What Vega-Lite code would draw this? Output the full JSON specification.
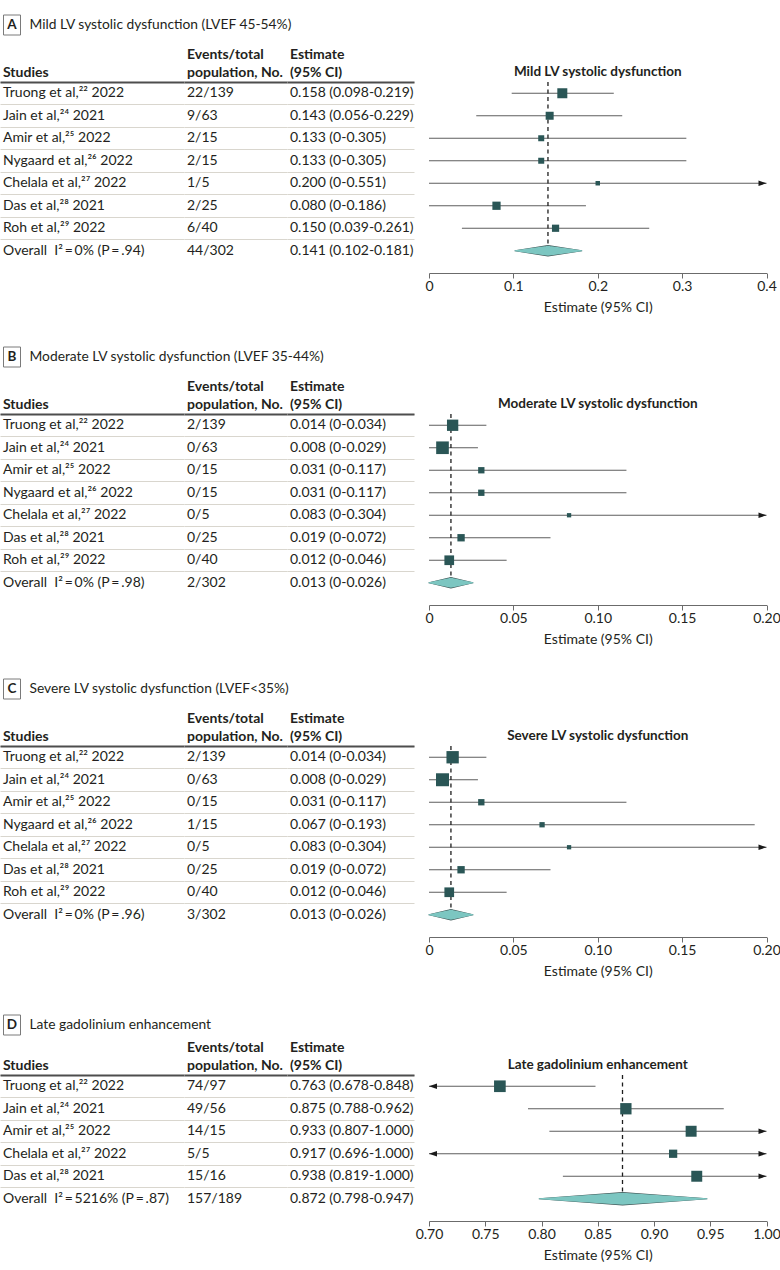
{
  "$schema": "https://vega.github.io/schema/vega-lite/v6.json",
  "padding": {"left": 0, "top": 13, "right": 0, "bottom": 0},
  "spacing": 31,
  "config": {
    "font": "Lato",
    "view": {"stroke": null},
    "text": {"font": "Lato", "fontSize": 14, "color": "#231f20"},
    "title": {"font": "Lato", "fontSize": 14, "fontWeight": "bold", "color": "#231f20", "anchor": "start", "dx": 3, "offset": 2, "lineHeight": 18},
    "axis": {"labelFont": "Lato", "titleFont": "Lato", "labelFontSize": 14, "titleFontSize": 14, "titleFontWeight": "normal", "labelColor": "#231f20", "titleColor": "#231f20", "tickSize": 5, "tickColor": "#6b6b6b", "domainColor": "#6b6b6b", "labelPadding": 1, "titlePadding": 7, "grid": false, "labelFlush": false}
  },
  "datasets": {
    "rows": [
      {"panel": "A", "study": "Truong et al,²² 2022", "events": "22/139", "ci": "0.158 (0.098-0.219)", "est": 0.158, "lo": 0.098, "hi": 0.219, "weight": 25},
      {"panel": "A", "study": "Jain et al,²⁴ 2021", "events": "9/63", "ci": "0.143 (0.056-0.229)", "est": 0.143, "lo": 0.056, "hi": 0.229, "weight": 16},
      {"panel": "A", "study": "Amir et al,²⁵ 2022", "events": "2/15", "ci": "0.133 (0-0.305)", "est": 0.133, "lo": 0, "hi": 0.305, "weight": 9},
      {"panel": "A", "study": "Nygaard et al,²⁶ 2022", "events": "2/15", "ci": "0.133 (0-0.305)", "est": 0.133, "lo": 0, "hi": 0.305, "weight": 9},
      {"panel": "A", "study": "Chelala et al,²⁷ 2022", "events": "1/5", "ci": "0.200 (0-0.551)", "est": 0.2, "lo": 0, "hi": 0.551, "weight": 5},
      {"panel": "A", "study": "Das et al,²⁸ 2021", "events": "2/25", "ci": "0.080 (0-0.186)", "est": 0.08, "lo": 0, "hi": 0.186, "weight": 17},
      {"panel": "A", "study": "Roh et al,²⁹ 2022", "events": "6/40", "ci": "0.150 (0.039-0.261)", "est": 0.15, "lo": 0.039, "hi": 0.261, "weight": 13},
      {"panel": "A", "study": "Overall\u00a0 I²\u2009=\u20090% (P\u2009=\u2009.94)", "events": "44/302", "ci": "0.141 (0.102-0.181)", "est": 0.141, "lo": 0.102, "hi": 0.181, "weight": null},
      {"panel": "B", "study": "Truong et al,²² 2022", "events": "2/139", "ci": "0.014 (0-0.034)", "est": 0.014, "lo": 0, "hi": 0.034, "weight": 32},
      {"panel": "B", "study": "Jain et al,²⁴ 2021", "events": "0/63", "ci": "0.008 (0-0.029)", "est": 0.008, "lo": 0, "hi": 0.029, "weight": 40},
      {"panel": "B", "study": "Amir et al,²⁵ 2022", "events": "0/15", "ci": "0.031 (0-0.117)", "est": 0.031, "lo": 0, "hi": 0.117, "weight": 10},
      {"panel": "B", "study": "Nygaard et al,²⁶ 2022", "events": "0/15", "ci": "0.031 (0-0.117)", "est": 0.031, "lo": 0, "hi": 0.117, "weight": 10},
      {"panel": "B", "study": "Chelala et al,²⁷ 2022", "events": "0/5", "ci": "0.083 (0-0.304)", "est": 0.083, "lo": 0, "hi": 0.304, "weight": 4.6},
      {"panel": "B", "study": "Das et al,²⁸ 2021", "events": "0/25", "ci": "0.019 (0-0.072)", "est": 0.019, "lo": 0, "hi": 0.072, "weight": 13.5},
      {"panel": "B", "study": "Roh et al,²⁹ 2022", "events": "0/40", "ci": "0.012 (0-0.046)", "est": 0.012, "lo": 0, "hi": 0.046, "weight": 23.5},
      {"panel": "B", "study": "Overall\u00a0 I²\u2009=\u20090% (P\u2009=\u2009.98)", "events": "2/302", "ci": "0.013 (0-0.026)", "est": 0.013, "lo": 0, "hi": 0.026, "weight": null},
      {"panel": "C", "study": "Truong et al,²² 2022", "events": "2/139", "ci": "0.014 (0-0.034)", "est": 0.014, "lo": 0, "hi": 0.034, "weight": 38},
      {"panel": "C", "study": "Jain et al,²⁴ 2021", "events": "0/63", "ci": "0.008 (0-0.029)", "est": 0.008, "lo": 0, "hi": 0.029, "weight": 42},
      {"panel": "C", "study": "Amir et al,²⁵ 2022", "events": "0/15", "ci": "0.031 (0-0.117)", "est": 0.031, "lo": 0, "hi": 0.117, "weight": 10},
      {"panel": "C", "study": "Nygaard et al,²⁶ 2022", "events": "1/15", "ci": "0.067 (0-0.193)", "est": 0.067, "lo": 0, "hi": 0.193, "weight": 7},
      {"panel": "C", "study": "Chelala et al,²⁷ 2022", "events": "0/5", "ci": "0.083 (0-0.304)", "est": 0.083, "lo": 0, "hi": 0.304, "weight": 4.6},
      {"panel": "C", "study": "Das et al,²⁸ 2021", "events": "0/25", "ci": "0.019 (0-0.072)", "est": 0.019, "lo": 0, "hi": 0.072, "weight": 13.5},
      {"panel": "C", "study": "Roh et al,²⁹ 2022", "events": "0/40", "ci": "0.012 (0-0.046)", "est": 0.012, "lo": 0, "hi": 0.046, "weight": 23.5},
      {"panel": "C", "study": "Overall\u00a0 I²\u2009=\u20090% (P\u2009=\u2009.96)", "events": "3/302", "ci": "0.013 (0-0.026)", "est": 0.013, "lo": 0, "hi": 0.026, "weight": null},
      {"panel": "D", "study": "Truong et al,²² 2022", "events": "74/97", "ci": "0.763 (0.678-0.848)", "est": 0.763, "lo": 0.678, "hi": 0.848, "weight": 34},
      {"panel": "D", "study": "Jain et al,²⁴ 2021", "events": "49/56", "ci": "0.875 (0.788-0.962)", "est": 0.875, "lo": 0.788, "hi": 0.962, "weight": 32},
      {"panel": "D", "study": "Amir et al,²⁵ 2022", "events": "14/15", "ci": "0.933 (0.807-1.000)", "est": 0.933, "lo": 0.807, "hi": 1.0, "weight": 30},
      {"panel": "D", "study": "Chelala et al,²⁷ 2022", "events": "5/5", "ci": "0.917 (0.696-1.000)", "est": 0.917, "lo": 0.696, "hi": 1.0, "weight": 17},
      {"panel": "D", "study": "Das et al,²⁸ 2021", "events": "15/16", "ci": "0.938 (0.819-1.000)", "est": 0.938, "lo": 0.819, "hi": 1.0, "weight": 30},
      {"panel": "D", "study": "Overall\u00a0 I²\u2009=\u20095216% (P\u2009=\u2009.87)", "events": "157/189", "ci": "0.872 (0.798-0.947)", "est": 0.872, "lo": 0.798, "hi": 0.947, "weight": null}
    ],
    "diamond": [
      {"panel": "A", "study": "Overall\u00a0 I²\u2009=\u20090% (P\u2009=\u2009.94)", "x": 0.102, "part": "edge"},
      {"panel": "A", "study": "Overall\u00a0 I²\u2009=\u20090% (P\u2009=\u2009.94)", "x": 0.141, "part": "center"},
      {"panel": "A", "study": "Overall\u00a0 I²\u2009=\u20090% (P\u2009=\u2009.94)", "x": 0.181, "part": "edge"},
      {"panel": "B", "study": "Overall\u00a0 I²\u2009=\u20090% (P\u2009=\u2009.98)", "x": 0, "part": "edge"},
      {"panel": "B", "study": "Overall\u00a0 I²\u2009=\u20090% (P\u2009=\u2009.98)", "x": 0.013, "part": "center"},
      {"panel": "B", "study": "Overall\u00a0 I²\u2009=\u20090% (P\u2009=\u2009.98)", "x": 0.026, "part": "edge"},
      {"panel": "C", "study": "Overall\u00a0 I²\u2009=\u20090% (P\u2009=\u2009.96)", "x": 0, "part": "edge"},
      {"panel": "C", "study": "Overall\u00a0 I²\u2009=\u20090% (P\u2009=\u2009.96)", "x": 0.013, "part": "center"},
      {"panel": "C", "study": "Overall\u00a0 I²\u2009=\u20090% (P\u2009=\u2009.96)", "x": 0.026, "part": "edge"},
      {"panel": "D", "study": "Overall\u00a0 I²\u2009=\u20095216% (P\u2009=\u2009.87)", "x": 0.798, "part": "edge"},
      {"panel": "D", "study": "Overall\u00a0 I²\u2009=\u20095216% (P\u2009=\u2009.87)", "x": 0.872, "part": "center"},
      {"panel": "D", "study": "Overall\u00a0 I²\u2009=\u20095216% (P\u2009=\u2009.87)", "x": 0.947, "part": "edge"}
    ]
  },
  "vconcat": [
    {
      "spacing": 11,
      "vconcat": [
        {
          "width": 24, "height": 20,
          "data": {"values": [{"letter": "A", "title": "Mild LV systolic dysfunction (LVEF 45-54%)"}]},
          "layer": [
            {"mark": {"type": "point", "shape": "M-0.85,-1H0.85V1H-0.85Z", "size": 400, "filled": false, "stroke": "#7a7a7a", "strokeWidth": 1, "opacity": 1}, "encoding": {}},
            {"mark": {"type": "text", "fontWeight": "bold", "fontSize": 13.5}, "encoding": {"text": {"field": "letter"}}},
            {"mark": {"type": "text", "align": "left", "dx": 17.5, "fontSize": 13.8}, "encoding": {"text": {"field": "title"}}}
          ]
        },
        {
          "spacing": 10,
          "hconcat": [
            {
              "spacing": 0, "bounds": "flush",
              "hconcat": [
                {"width": 184, "height": 180, "data": {"name": "rows"}, "transform": [{"filter": "datum.panel == 'A'"}], "title": {"text": "Studies"},
                 "mark": {"type": "text", "align": "left", "baseline": "middle", "dx": 3},
                 "encoding": {
                   "y": {"field": "study", "type": "nominal", "sort": null, "scale": {"type": "band", "paddingInner": 0, "paddingOuter": 0}, "axis": {"grid": true, "gridColor": "#d9d6ce", "bandPosition": 0, "ticks": false, "labels": false, "domain": false, "title": null}},
                   "x": {"datum": 0, "type": "quantitative", "scale": {"domain": [0, 1]}, "axis": {"orient": "top", "domainWidth": 2, "domainColor": "#4d4d4d", "ticks": false, "labels": false, "title": null, "zindex": 1}},
                   "text": {"field": "study"}}},
                {"width": 103, "height": 180, "data": {"name": "rows"}, "transform": [{"filter": "datum.panel == 'A'"}], "title": {"text": ["Events/total", "population, No."]},
                 "mark": {"type": "text", "align": "left", "baseline": "middle", "dx": 3},
                 "encoding": {
                   "y": {"field": "study", "type": "nominal", "sort": null, "scale": {"type": "band", "paddingInner": 0, "paddingOuter": 0}, "axis": {"grid": true, "gridColor": "#d9d6ce", "bandPosition": 0, "ticks": false, "labels": false, "domain": false, "title": null}},
                   "x": {"datum": 0, "type": "quantitative", "scale": {"domain": [0, 1]}, "axis": {"orient": "top", "domainWidth": 2, "domainColor": "#4d4d4d", "ticks": false, "labels": false, "title": null, "zindex": 1}},
                   "text": {"field": "events"}}},
                {"width": 127, "height": 180, "data": {"name": "rows"}, "transform": [{"filter": "datum.panel == 'A'"}], "title": {"text": ["Estimate", "(95% CI)"]},
                 "mark": {"type": "text", "align": "left", "baseline": "middle", "dx": 3},
                 "encoding": {
                   "y": {"field": "study", "type": "nominal", "sort": null, "scale": {"type": "band", "paddingInner": 0, "paddingOuter": 0}, "axis": {"grid": true, "gridColor": "#d9d6ce", "bandPosition": 0, "ticks": false, "labels": false, "domain": false, "title": null}},
                   "x": {"datum": 0, "type": "quantitative", "scale": {"domain": [0, 1]}, "axis": {"orient": "top", "domainWidth": 2, "domainColor": "#4d4d4d", "ticks": false, "labels": false, "title": null, "zindex": 1}},
                   "text": {"field": "ci"}}}
              ]
            },
            {
              "width": 337.5, "height": 180,
              "title": {"text": "Mild LV systolic dysfunction", "anchor": "middle", "dx": 0, "offset": 3, "fontSize": 13.5},
              "resolve": {"scale": {"size": "independent"}},
              "layer": [
                {"data": {"name": "rows"}, "transform": [{"filter": "datum.panel == 'A' && isValid(datum.weight)"}],
                 "mark": {"type": "rule", "color": "#5e5e5e", "strokeWidth": 1.2},
                 "encoding": {
                   "y": {"field": "study", "type": "nominal", "sort": null, "scale": {"type": "band", "paddingInner": 0, "paddingOuter": 0}, "axis": null},
                   "x": {"field": "lo", "type": "quantitative", "scale": {"domain": [0, 0.4], "clamp": true, "nice": false, "zero": false}, "axis": {"values": [0, 0.1, 0.2, 0.3, 0.4], "labelExpr": "datum.value == 0 ? '0' : format(datum.value, '.1f')", "title": "Estimate (95% CI)", "offset": 11}},
                   "x2": {"field": "hi"}}},
                {"data": {"name": "rows"}, "transform": [{"filter": "datum.panel == 'A' && isValid(datum.weight)"}],
                 "mark": {"type": "rule", "color": "#1e1e1e", "strokeWidth": 1.3, "strokeDash": [4, 3.5], "yOffset": -11.25, "y2Offset": 11.25},
                 "encoding": {
                   "y": {"field": "study", "type": "nominal", "sort": null, "scale": {"type": "band", "paddingInner": 0, "paddingOuter": 0}, "axis": null},
                   "y2": {"field": "study"},
                   "x": {"datum": 0.141, "type": "quantitative", "scale": {"domain": [0, 0.4], "clamp": true, "nice": false, "zero": false}, "title": "Estimate (95% CI)"}}},
                {"data": {"name": "rows"}, "transform": [{"filter": "datum.panel == 'A' && !isValid(datum.weight)"}],
                 "mark": {"type": "rule", "color": "#1e1e1e", "strokeWidth": 1.3, "strokeDash": [4, 3.5], "yOffset": -11.25},
                 "encoding": {
                   "y": {"field": "study", "type": "nominal", "sort": null, "scale": {"type": "band", "paddingInner": 0, "paddingOuter": 0}, "axis": null},
                   "y2": {"field": "study"},
                   "x": {"field": "est", "type": "quantitative", "scale": {"domain": [0, 0.4], "clamp": true, "nice": false, "zero": false}, "title": "Estimate (95% CI)"}}},
                {"data": {"name": "rows"}, "transform": [{"filter": "datum.panel == 'A' && isValid(datum.weight)"}],
                 "mark": {"type": "point", "shape": "square", "filled": true, "color": "#2a5656", "opacity": 1},
                 "encoding": {
                   "y": {"field": "study", "type": "nominal", "sort": null, "scale": {"type": "band", "paddingInner": 0, "paddingOuter": 0}, "axis": null},
                   "x": {"field": "est", "type": "quantitative", "scale": {"domain": [0, 0.4], "clamp": true, "nice": false, "zero": false}, "title": "Estimate (95% CI)"},
                   "size": {"field": "weight", "type": "quantitative", "scale": {"domain": [0, 100], "range": [0, 400]}, "legend": null}}},
                {"data": {"name": "diamond"}, "transform": [{"filter": "datum.panel == 'A'"}],
                 "mark": {"type": "trail", "color": "#3d5252"},
                 "encoding": {
                   "y": {"field": "study", "type": "nominal", "sort": null, "scale": {"type": "band", "paddingInner": 0, "paddingOuter": 0}, "axis": null},
                   "x": {"field": "x", "type": "quantitative", "scale": {"domain": [0, 0.4], "clamp": true, "nice": false, "zero": false}, "title": "Estimate (95% CI)"},
                   "size": {"field": "part", "type": "ordinal", "scale": {"domain": ["edge", "center"], "range": [1, 11.6]}, "legend": null}}},
                {"data": {"name": "diamond"}, "transform": [{"filter": "datum.panel == 'A'"}],
                 "mark": {"type": "trail", "color": "#7cc6c1"},
                 "encoding": {
                   "y": {"field": "study", "type": "nominal", "sort": null, "scale": {"type": "band", "paddingInner": 0, "paddingOuter": 0}, "axis": null},
                   "x": {"field": "x", "type": "quantitative", "scale": {"domain": [0, 0.4], "clamp": true, "nice": false, "zero": false}, "title": "Estimate (95% CI)"},
                   "size": {"field": "part", "type": "ordinal", "scale": {"domain": ["edge", "center"], "range": [0, 10]}, "legend": null}}},
                {"data": {"name": "rows"}, "transform": [{"filter": "datum.panel == 'A' && isValid(datum.weight) && datum.hi >= 0.4"}],
                 "mark": {"type": "point", "shape": "M-2,-0.7L0,0L-2,0.7Z", "size": 64, "filled": true, "color": "#1a1a1a", "opacity": 1},
                 "encoding": {
                   "y": {"field": "study", "type": "nominal", "sort": null, "scale": {"type": "band", "paddingInner": 0, "paddingOuter": 0}, "axis": null},
                   "x": {"field": "hi", "type": "quantitative", "scale": {"domain": [0, 0.4], "clamp": true, "nice": false, "zero": false}, "title": "Estimate (95% CI)"}}}
              ]
            }
          ]
        }
      ]
    },
    {
      "spacing": 11,
      "vconcat": [
        {
          "width": 24, "height": 20,
          "data": {"values": [{"letter": "B", "title": "Moderate LV systolic dysfunction (LVEF 35-44%)"}]},
          "layer": [
            {"mark": {"type": "point", "shape": "M-0.85,-1H0.85V1H-0.85Z", "size": 400, "filled": false, "stroke": "#7a7a7a", "strokeWidth": 1, "opacity": 1}, "encoding": {}},
            {"mark": {"type": "text", "fontWeight": "bold", "fontSize": 13.5}, "encoding": {"text": {"field": "letter"}}},
            {"mark": {"type": "text", "align": "left", "dx": 17.5, "fontSize": 13.8}, "encoding": {"text": {"field": "title"}}}
          ]
        },
        {
          "spacing": 10,
          "hconcat": [
            {
              "spacing": 0, "bounds": "flush",
              "hconcat": [
                {"width": 184, "height": 180, "data": {"name": "rows"}, "transform": [{"filter": "datum.panel == 'B'"}], "title": {"text": "Studies"},
                 "mark": {"type": "text", "align": "left", "baseline": "middle", "dx": 3},
                 "encoding": {
                   "y": {"field": "study", "type": "nominal", "sort": null, "scale": {"type": "band", "paddingInner": 0, "paddingOuter": 0}, "axis": {"grid": true, "gridColor": "#d9d6ce", "bandPosition": 0, "ticks": false, "labels": false, "domain": false, "title": null}},
                   "x": {"datum": 0, "type": "quantitative", "scale": {"domain": [0, 1]}, "axis": {"orient": "top", "domainWidth": 2, "domainColor": "#4d4d4d", "ticks": false, "labels": false, "title": null, "zindex": 1}},
                   "text": {"field": "study"}}},
                {"width": 103, "height": 180, "data": {"name": "rows"}, "transform": [{"filter": "datum.panel == 'B'"}], "title": {"text": ["Events/total", "population, No."]},
                 "mark": {"type": "text", "align": "left", "baseline": "middle", "dx": 3},
                 "encoding": {
                   "y": {"field": "study", "type": "nominal", "sort": null, "scale": {"type": "band", "paddingInner": 0, "paddingOuter": 0}, "axis": {"grid": true, "gridColor": "#d9d6ce", "bandPosition": 0, "ticks": false, "labels": false, "domain": false, "title": null}},
                   "x": {"datum": 0, "type": "quantitative", "scale": {"domain": [0, 1]}, "axis": {"orient": "top", "domainWidth": 2, "domainColor": "#4d4d4d", "ticks": false, "labels": false, "title": null, "zindex": 1}},
                   "text": {"field": "events"}}},
                {"width": 127, "height": 180, "data": {"name": "rows"}, "transform": [{"filter": "datum.panel == 'B'"}], "title": {"text": ["Estimate", "(95% CI)"]},
                 "mark": {"type": "text", "align": "left", "baseline": "middle", "dx": 3},
                 "encoding": {
                   "y": {"field": "study", "type": "nominal", "sort": null, "scale": {"type": "band", "paddingInner": 0, "paddingOuter": 0}, "axis": {"grid": true, "gridColor": "#d9d6ce", "bandPosition": 0, "ticks": false, "labels": false, "domain": false, "title": null}},
                   "x": {"datum": 0, "type": "quantitative", "scale": {"domain": [0, 1]}, "axis": {"orient": "top", "domainWidth": 2, "domainColor": "#4d4d4d", "ticks": false, "labels": false, "title": null, "zindex": 1}},
                   "text": {"field": "ci"}}}
              ]
            },
            {
              "width": 337.5, "height": 180,
              "title": {"text": "Moderate LV systolic dysfunction", "anchor": "middle", "dx": 0, "offset": 3, "fontSize": 13.5},
              "resolve": {"scale": {"size": "independent"}},
              "layer": [
                {"data": {"name": "rows"}, "transform": [{"filter": "datum.panel == 'B' && isValid(datum.weight)"}],
                 "mark": {"type": "rule", "color": "#5e5e5e", "strokeWidth": 1.2},
                 "encoding": {
                   "y": {"field": "study", "type": "nominal", "sort": null, "scale": {"type": "band", "paddingInner": 0, "paddingOuter": 0}, "axis": null},
                   "x": {"field": "lo", "type": "quantitative", "scale": {"domain": [0, 0.2], "clamp": true, "nice": false, "zero": false}, "axis": {"values": [0, 0.05, 0.1, 0.15, 0.2], "labelExpr": "datum.value == 0 ? '0' : format(datum.value, '.2f')", "title": "Estimate (95% CI)", "offset": 11}},
                   "x2": {"field": "hi"}}},
                {"data": {"name": "rows"}, "transform": [{"filter": "datum.panel == 'B' && isValid(datum.weight)"}],
                 "mark": {"type": "rule", "color": "#1e1e1e", "strokeWidth": 1.3, "strokeDash": [4, 3.5], "yOffset": -11.25, "y2Offset": 11.25},
                 "encoding": {
                   "y": {"field": "study", "type": "nominal", "sort": null, "scale": {"type": "band", "paddingInner": 0, "paddingOuter": 0}, "axis": null},
                   "y2": {"field": "study"},
                   "x": {"datum": 0.013, "type": "quantitative", "scale": {"domain": [0, 0.2], "clamp": true, "nice": false, "zero": false}, "title": "Estimate (95% CI)"}}},
                {"data": {"name": "rows"}, "transform": [{"filter": "datum.panel == 'B' && !isValid(datum.weight)"}],
                 "mark": {"type": "rule", "color": "#1e1e1e", "strokeWidth": 1.3, "strokeDash": [4, 3.5], "yOffset": -11.25},
                 "encoding": {
                   "y": {"field": "study", "type": "nominal", "sort": null, "scale": {"type": "band", "paddingInner": 0, "paddingOuter": 0}, "axis": null},
                   "y2": {"field": "study"},
                   "x": {"field": "est", "type": "quantitative", "scale": {"domain": [0, 0.2], "clamp": true, "nice": false, "zero": false}, "title": "Estimate (95% CI)"}}},
                {"data": {"name": "rows"}, "transform": [{"filter": "datum.panel == 'B' && isValid(datum.weight)"}],
                 "mark": {"type": "point", "shape": "square", "filled": true, "color": "#2a5656", "opacity": 1},
                 "encoding": {
                   "y": {"field": "study", "type": "nominal", "sort": null, "scale": {"type": "band", "paddingInner": 0, "paddingOuter": 0}, "axis": null},
                   "x": {"field": "est", "type": "quantitative", "scale": {"domain": [0, 0.2], "clamp": true, "nice": false, "zero": false}, "title": "Estimate (95% CI)"},
                   "size": {"field": "weight", "type": "quantitative", "scale": {"domain": [0, 100], "range": [0, 400]}, "legend": null}}},
                {"data": {"name": "diamond"}, "transform": [{"filter": "datum.panel == 'B'"}],
                 "mark": {"type": "trail", "color": "#3d5252"},
                 "encoding": {
                   "y": {"field": "study", "type": "nominal", "sort": null, "scale": {"type": "band", "paddingInner": 0, "paddingOuter": 0}, "axis": null},
                   "x": {"field": "x", "type": "quantitative", "scale": {"domain": [0, 0.2], "clamp": true, "nice": false, "zero": false}, "title": "Estimate (95% CI)"},
                   "size": {"field": "part", "type": "ordinal", "scale": {"domain": ["edge", "center"], "range": [1, 11.6]}, "legend": null}}},
                {"data": {"name": "diamond"}, "transform": [{"filter": "datum.panel == 'B'"}],
                 "mark": {"type": "trail", "color": "#7cc6c1"},
                 "encoding": {
                   "y": {"field": "study", "type": "nominal", "sort": null, "scale": {"type": "band", "paddingInner": 0, "paddingOuter": 0}, "axis": null},
                   "x": {"field": "x", "type": "quantitative", "scale": {"domain": [0, 0.2], "clamp": true, "nice": false, "zero": false}, "title": "Estimate (95% CI)"},
                   "size": {"field": "part", "type": "ordinal", "scale": {"domain": ["edge", "center"], "range": [0, 10]}, "legend": null}}},
                {"data": {"name": "rows"}, "transform": [{"filter": "datum.panel == 'B' && isValid(datum.weight) && datum.hi >= 0.2"}],
                 "mark": {"type": "point", "shape": "M-2,-0.7L0,0L-2,0.7Z", "size": 64, "filled": true, "color": "#1a1a1a", "opacity": 1},
                 "encoding": {
                   "y": {"field": "study", "type": "nominal", "sort": null, "scale": {"type": "band", "paddingInner": 0, "paddingOuter": 0}, "axis": null},
                   "x": {"field": "hi", "type": "quantitative", "scale": {"domain": [0, 0.2], "clamp": true, "nice": false, "zero": false}, "title": "Estimate (95% CI)"}}}
              ]
            }
          ]
        }
      ]
    },
    {
      "spacing": 11,
      "vconcat": [
        {
          "width": 24, "height": 20,
          "data": {"values": [{"letter": "C", "title": "Severe LV systolic dysfunction (LVEF<35%)"}]},
          "layer": [
            {"mark": {"type": "point", "shape": "M-0.85,-1H0.85V1H-0.85Z", "size": 400, "filled": false, "stroke": "#7a7a7a", "strokeWidth": 1, "opacity": 1}, "encoding": {}},
            {"mark": {"type": "text", "fontWeight": "bold", "fontSize": 13.5}, "encoding": {"text": {"field": "letter"}}},
            {"mark": {"type": "text", "align": "left", "dx": 17.5, "fontSize": 13.8}, "encoding": {"text": {"field": "title"}}}
          ]
        },
        {
          "spacing": 10,
          "hconcat": [
            {
              "spacing": 0, "bounds": "flush",
              "hconcat": [
                {"width": 184, "height": 180, "data": {"name": "rows"}, "transform": [{"filter": "datum.panel == 'C'"}], "title": {"text": "Studies"},
                 "mark": {"type": "text", "align": "left", "baseline": "middle", "dx": 3},
                 "encoding": {
                   "y": {"field": "study", "type": "nominal", "sort": null, "scale": {"type": "band", "paddingInner": 0, "paddingOuter": 0}, "axis": {"grid": true, "gridColor": "#d9d6ce", "bandPosition": 0, "ticks": false, "labels": false, "domain": false, "title": null}},
                   "x": {"datum": 0, "type": "quantitative", "scale": {"domain": [0, 1]}, "axis": {"orient": "top", "domainWidth": 2, "domainColor": "#4d4d4d", "ticks": false, "labels": false, "title": null, "zindex": 1}},
                   "text": {"field": "study"}}},
                {"width": 103, "height": 180, "data": {"name": "rows"}, "transform": [{"filter": "datum.panel == 'C'"}], "title": {"text": ["Events/total", "population, No."]},
                 "mark": {"type": "text", "align": "left", "baseline": "middle", "dx": 3},
                 "encoding": {
                   "y": {"field": "study", "type": "nominal", "sort": null, "scale": {"type": "band", "paddingInner": 0, "paddingOuter": 0}, "axis": {"grid": true, "gridColor": "#d9d6ce", "bandPosition": 0, "ticks": false, "labels": false, "domain": false, "title": null}},
                   "x": {"datum": 0, "type": "quantitative", "scale": {"domain": [0, 1]}, "axis": {"orient": "top", "domainWidth": 2, "domainColor": "#4d4d4d", "ticks": false, "labels": false, "title": null, "zindex": 1}},
                   "text": {"field": "events"}}},
                {"width": 127, "height": 180, "data": {"name": "rows"}, "transform": [{"filter": "datum.panel == 'C'"}], "title": {"text": ["Estimate", "(95% CI)"]},
                 "mark": {"type": "text", "align": "left", "baseline": "middle", "dx": 3},
                 "encoding": {
                   "y": {"field": "study", "type": "nominal", "sort": null, "scale": {"type": "band", "paddingInner": 0, "paddingOuter": 0}, "axis": {"grid": true, "gridColor": "#d9d6ce", "bandPosition": 0, "ticks": false, "labels": false, "domain": false, "title": null}},
                   "x": {"datum": 0, "type": "quantitative", "scale": {"domain": [0, 1]}, "axis": {"orient": "top", "domainWidth": 2, "domainColor": "#4d4d4d", "ticks": false, "labels": false, "title": null, "zindex": 1}},
                   "text": {"field": "ci"}}}
              ]
            },
            {
              "width": 337.5, "height": 180,
              "title": {"text": "Severe LV systolic dysfunction", "anchor": "middle", "dx": 0, "offset": 3, "fontSize": 13.5},
              "resolve": {"scale": {"size": "independent"}},
              "layer": [
                {"data": {"name": "rows"}, "transform": [{"filter": "datum.panel == 'C' && isValid(datum.weight)"}],
                 "mark": {"type": "rule", "color": "#5e5e5e", "strokeWidth": 1.2},
                 "encoding": {
                   "y": {"field": "study", "type": "nominal", "sort": null, "scale": {"type": "band", "paddingInner": 0, "paddingOuter": 0}, "axis": null},
                   "x": {"field": "lo", "type": "quantitative", "scale": {"domain": [0, 0.2], "clamp": true, "nice": false, "zero": false}, "axis": {"values": [0, 0.05, 0.1, 0.15, 0.2], "labelExpr": "datum.value == 0 ? '0' : format(datum.value, '.2f')", "title": "Estimate (95% CI)", "offset": 11}},
                   "x2": {"field": "hi"}}},
                {"data": {"name": "rows"}, "transform": [{"filter": "datum.panel == 'C' && isValid(datum.weight)"}],
                 "mark": {"type": "rule", "color": "#1e1e1e", "strokeWidth": 1.3, "strokeDash": [4, 3.5], "yOffset": -11.25, "y2Offset": 11.25},
                 "encoding": {
                   "y": {"field": "study", "type": "nominal", "sort": null, "scale": {"type": "band", "paddingInner": 0, "paddingOuter": 0}, "axis": null},
                   "y2": {"field": "study"},
                   "x": {"datum": 0.013, "type": "quantitative", "scale": {"domain": [0, 0.2], "clamp": true, "nice": false, "zero": false}, "title": "Estimate (95% CI)"}}},
                {"data": {"name": "rows"}, "transform": [{"filter": "datum.panel == 'C' && !isValid(datum.weight)"}],
                 "mark": {"type": "rule", "color": "#1e1e1e", "strokeWidth": 1.3, "strokeDash": [4, 3.5], "yOffset": -11.25},
                 "encoding": {
                   "y": {"field": "study", "type": "nominal", "sort": null, "scale": {"type": "band", "paddingInner": 0, "paddingOuter": 0}, "axis": null},
                   "y2": {"field": "study"},
                   "x": {"field": "est", "type": "quantitative", "scale": {"domain": [0, 0.2], "clamp": true, "nice": false, "zero": false}, "title": "Estimate (95% CI)"}}},
                {"data": {"name": "rows"}, "transform": [{"filter": "datum.panel == 'C' && isValid(datum.weight)"}],
                 "mark": {"type": "point", "shape": "square", "filled": true, "color": "#2a5656", "opacity": 1},
                 "encoding": {
                   "y": {"field": "study", "type": "nominal", "sort": null, "scale": {"type": "band", "paddingInner": 0, "paddingOuter": 0}, "axis": null},
                   "x": {"field": "est", "type": "quantitative", "scale": {"domain": [0, 0.2], "clamp": true, "nice": false, "zero": false}, "title": "Estimate (95% CI)"},
                   "size": {"field": "weight", "type": "quantitative", "scale": {"domain": [0, 100], "range": [0, 400]}, "legend": null}}},
                {"data": {"name": "diamond"}, "transform": [{"filter": "datum.panel == 'C'"}],
                 "mark": {"type": "trail", "color": "#3d5252"},
                 "encoding": {
                   "y": {"field": "study", "type": "nominal", "sort": null, "scale": {"type": "band", "paddingInner": 0, "paddingOuter": 0}, "axis": null},
                   "x": {"field": "x", "type": "quantitative", "scale": {"domain": [0, 0.2], "clamp": true, "nice": false, "zero": false}, "title": "Estimate (95% CI)"},
                   "size": {"field": "part", "type": "ordinal", "scale": {"domain": ["edge", "center"], "range": [1, 11.6]}, "legend": null}}},
                {"data": {"name": "diamond"}, "transform": [{"filter": "datum.panel == 'C'"}],
                 "mark": {"type": "trail", "color": "#7cc6c1"},
                 "encoding": {
                   "y": {"field": "study", "type": "nominal", "sort": null, "scale": {"type": "band", "paddingInner": 0, "paddingOuter": 0}, "axis": null},
                   "x": {"field": "x", "type": "quantitative", "scale": {"domain": [0, 0.2], "clamp": true, "nice": false, "zero": false}, "title": "Estimate (95% CI)"},
                   "size": {"field": "part", "type": "ordinal", "scale": {"domain": ["edge", "center"], "range": [0, 10]}, "legend": null}}},
                {"data": {"name": "rows"}, "transform": [{"filter": "datum.panel == 'C' && isValid(datum.weight) && datum.hi >= 0.2"}],
                 "mark": {"type": "point", "shape": "M-2,-0.7L0,0L-2,0.7Z", "size": 64, "filled": true, "color": "#1a1a1a", "opacity": 1},
                 "encoding": {
                   "y": {"field": "study", "type": "nominal", "sort": null, "scale": {"type": "band", "paddingInner": 0, "paddingOuter": 0}, "axis": null},
                   "x": {"field": "hi", "type": "quantitative", "scale": {"domain": [0, 0.2], "clamp": true, "nice": false, "zero": false}, "title": "Estimate (95% CI)"}}}
              ]
            }
          ]
        }
      ]
    },
    {
      "spacing": 0,
      "vconcat": [
        {
          "width": 24, "height": 32,
          "data": {"values": [{"letter": "D", "title": "Late gadolinium enhancement"}]},
          "layer": [
            {"mark": {"type": "point", "shape": "M-0.85,-1H0.85V1H-0.85Z", "size": 400, "filled": false, "stroke": "#7a7a7a", "strokeWidth": 1, "opacity": 1}, "encoding": {}},
            {"mark": {"type": "text", "fontWeight": "bold", "fontSize": 13.5}, "encoding": {"text": {"field": "letter"}}},
            {"mark": {"type": "text", "align": "left", "dx": 17.5, "fontSize": 13.8}, "encoding": {"text": {"field": "title"}}}
          ]
        },
        {
          "spacing": 1,
          "hconcat": [
            {
              "spacing": 0, "bounds": "flush",
              "hconcat": [
                {"width": 184, "height": 135, "data": {"name": "rows"}, "transform": [{"filter": "datum.panel == 'D'"}], "title": {"text": "Studies"},
                 "mark": {"type": "text", "align": "left", "baseline": "middle", "dx": 3},
                 "encoding": {
                   "y": {"field": "study", "type": "nominal", "sort": null, "scale": {"type": "band", "paddingInner": 0, "paddingOuter": 0}, "axis": {"grid": true, "gridColor": "#d9d6ce", "bandPosition": 0, "ticks": false, "labels": false, "domain": false, "title": null}},
                   "x": {"datum": 0, "type": "quantitative", "scale": {"domain": [0, 1]}, "axis": {"orient": "top", "domainWidth": 2, "domainColor": "#4d4d4d", "ticks": false, "labels": false, "title": null, "zindex": 1}},
                   "text": {"field": "study"}}},
                {"width": 103, "height": 135, "data": {"name": "rows"}, "transform": [{"filter": "datum.panel == 'D'"}], "title": {"text": ["Events/total", "population, No."]},
                 "mark": {"type": "text", "align": "left", "baseline": "middle", "dx": 3},
                 "encoding": {
                   "y": {"field": "study", "type": "nominal", "sort": null, "scale": {"type": "band", "paddingInner": 0, "paddingOuter": 0}, "axis": {"grid": true, "gridColor": "#d9d6ce", "bandPosition": 0, "ticks": false, "labels": false, "domain": false, "title": null}},
                   "x": {"datum": 0, "type": "quantitative", "scale": {"domain": [0, 1]}, "axis": {"orient": "top", "domainWidth": 2, "domainColor": "#4d4d4d", "ticks": false, "labels": false, "title": null, "zindex": 1}},
                   "text": {"field": "events"}}},
                {"width": 127, "height": 135, "data": {"name": "rows"}, "transform": [{"filter": "datum.panel == 'D'"}], "title": {"text": ["Estimate", "(95% CI)"]},
                 "mark": {"type": "text", "align": "left", "baseline": "middle", "dx": 3},
                 "encoding": {
                   "y": {"field": "study", "type": "nominal", "sort": null, "scale": {"type": "band", "paddingInner": 0, "paddingOuter": 0}, "axis": {"grid": true, "gridColor": "#d9d6ce", "bandPosition": 0, "ticks": false, "labels": false, "domain": false, "title": null}},
                   "x": {"datum": 0, "type": "quantitative", "scale": {"domain": [0, 1]}, "axis": {"orient": "top", "domainWidth": 2, "domainColor": "#4d4d4d", "ticks": false, "labels": false, "title": null, "zindex": 1}},
                   "text": {"field": "ci"}}}
              ]
            },
            {
              "width": 337.5, "height": 135,
              "title": {"text": "Late gadolinium enhancement", "anchor": "middle", "dx": 0, "offset": 3, "fontSize": 13.5},
              "resolve": {"scale": {"size": "independent"}},
              "layer": [
                {"data": {"name": "rows"}, "transform": [{"filter": "datum.panel == 'D' && isValid(datum.weight)"}],
                 "mark": {"type": "rule", "color": "#5e5e5e", "strokeWidth": 1.2},
                 "encoding": {
                   "y": {"field": "study", "type": "nominal", "sort": null, "scale": {"type": "band", "paddingInner": 0, "paddingOuter": 0}, "axis": null},
                   "x": {"field": "lo", "type": "quantitative", "scale": {"domain": [0.7, 1], "clamp": true, "nice": false, "zero": false}, "axis": {"values": [0.7, 0.75, 0.8, 0.85, 0.9, 0.95, 1], "labelExpr": "format(datum.value, '.2f')", "title": "Estimate (95% CI)", "offset": 11}},
                   "x2": {"field": "hi"}}},
                {"data": {"name": "rows"}, "transform": [{"filter": "datum.panel == 'D' && isValid(datum.weight)"}],
                 "mark": {"type": "rule", "color": "#1e1e1e", "strokeWidth": 1.3, "strokeDash": [4, 3.5], "yOffset": -11.25, "y2Offset": 11.25},
                 "encoding": {
                   "y": {"field": "study", "type": "nominal", "sort": null, "scale": {"type": "band", "paddingInner": 0, "paddingOuter": 0}, "axis": null},
                   "y2": {"field": "study"},
                   "x": {"datum": 0.872, "type": "quantitative", "scale": {"domain": [0.7, 1], "clamp": true, "nice": false, "zero": false}, "title": "Estimate (95% CI)"}}},
                {"data": {"name": "rows"}, "transform": [{"filter": "datum.panel == 'D' && !isValid(datum.weight)"}],
                 "mark": {"type": "rule", "color": "#1e1e1e", "strokeWidth": 1.3, "strokeDash": [4, 3.5], "yOffset": -11.25},
                 "encoding": {
                   "y": {"field": "study", "type": "nominal", "sort": null, "scale": {"type": "band", "paddingInner": 0, "paddingOuter": 0}, "axis": null},
                   "y2": {"field": "study"},
                   "x": {"field": "est", "type": "quantitative", "scale": {"domain": [0.7, 1], "clamp": true, "nice": false, "zero": false}, "title": "Estimate (95% CI)"}}},
                {"data": {"name": "rows"}, "transform": [{"filter": "datum.panel == 'D' && isValid(datum.weight)"}],
                 "mark": {"type": "point", "shape": "square", "filled": true, "color": "#2a5656", "opacity": 1},
                 "encoding": {
                   "y": {"field": "study", "type": "nominal", "sort": null, "scale": {"type": "band", "paddingInner": 0, "paddingOuter": 0}, "axis": null},
                   "x": {"field": "est", "type": "quantitative", "scale": {"domain": [0.7, 1], "clamp": true, "nice": false, "zero": false}, "title": "Estimate (95% CI)"},
                   "size": {"field": "weight", "type": "quantitative", "scale": {"domain": [0, 100], "range": [0, 400]}, "legend": null}}},
                {"data": {"name": "diamond"}, "transform": [{"filter": "datum.panel == 'D'"}],
                 "mark": {"type": "trail", "color": "#3d5252"},
                 "encoding": {
                   "y": {"field": "study", "type": "nominal", "sort": null, "scale": {"type": "band", "paddingInner": 0, "paddingOuter": 0}, "axis": null},
                   "x": {"field": "x", "type": "quantitative", "scale": {"domain": [0.7, 1], "clamp": true, "nice": false, "zero": false}, "title": "Estimate (95% CI)"},
                   "size": {"field": "part", "type": "ordinal", "scale": {"domain": ["edge", "center"], "range": [1, 13.6]}, "legend": null}}},
                {"data": {"name": "diamond"}, "transform": [{"filter": "datum.panel == 'D'"}],
                 "mark": {"type": "trail", "color": "#7cc6c1"},
                 "encoding": {
                   "y": {"field": "study", "type": "nominal", "sort": null, "scale": {"type": "band", "paddingInner": 0, "paddingOuter": 0}, "axis": null},
                   "x": {"field": "x", "type": "quantitative", "scale": {"domain": [0.7, 1], "clamp": true, "nice": false, "zero": false}, "title": "Estimate (95% CI)"},
                   "size": {"field": "part", "type": "ordinal", "scale": {"domain": ["edge", "center"], "range": [0, 12]}, "legend": null}}},
                {"data": {"name": "rows"}, "transform": [{"filter": "datum.panel == 'D' && isValid(datum.weight) && datum.hi >= 1"}],
                 "mark": {"type": "point", "shape": "M-2,-0.7L0,0L-2,0.7Z", "size": 64, "filled": true, "color": "#1a1a1a", "opacity": 1},
                 "encoding": {
                   "y": {"field": "study", "type": "nominal", "sort": null, "scale": {"type": "band", "paddingInner": 0, "paddingOuter": 0}, "axis": null},
                   "x": {"field": "hi", "type": "quantitative", "scale": {"domain": [0.7, 1], "clamp": true, "nice": false, "zero": false}, "title": "Estimate (95% CI)"}}},
                {"data": {"name": "rows"}, "transform": [{"filter": "datum.panel == 'D' && isValid(datum.weight) && datum.lo < 0.7"}],
                 "mark": {"type": "point", "shape": "M2,-0.7L0,0L2,0.7Z", "size": 64, "filled": true, "color": "#1a1a1a", "opacity": 1},
                 "encoding": {
                   "y": {"field": "study", "type": "nominal", "sort": null, "scale": {"type": "band", "paddingInner": 0, "paddingOuter": 0}, "axis": null},
                   "x": {"field": "lo", "type": "quantitative", "scale": {"domain": [0.7, 1], "clamp": true, "nice": false, "zero": false}, "title": "Estimate (95% CI)"}}}
              ]
            }
          ]
        }
      ]
    }
  ]
}
